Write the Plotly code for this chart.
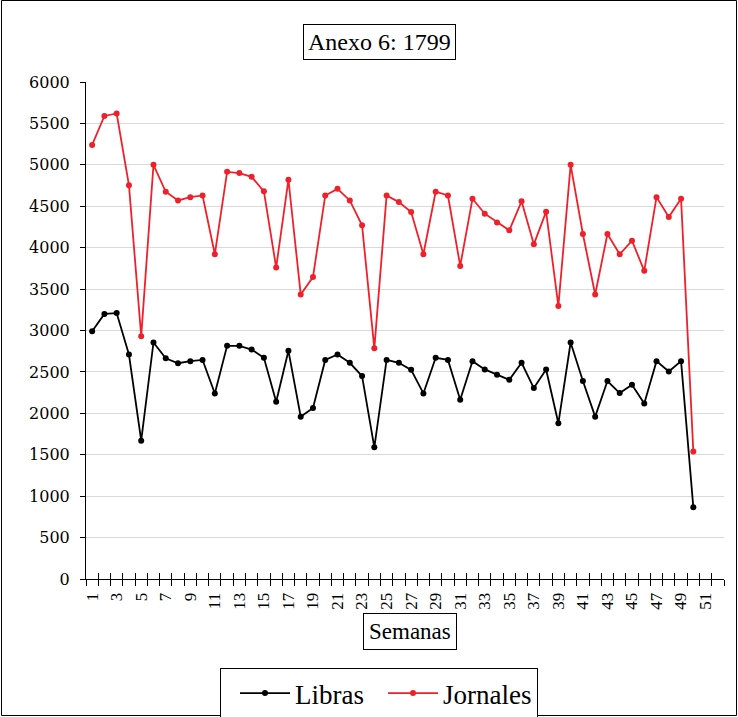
import plotly.graph_objects as go

# ---- data ----
semanas = list(range(1, 53))  # categories on the axis (52 weeks)
libras = [2990, 3200, 3210, 2710, 1670, 2855, 2665, 2605, 2630, 2645,
          2240, 2815, 2815, 2770, 2670, 2140, 2755, 1960, 2065, 2645,
          2710, 2610, 2450, 1590, 2645, 2610, 2525, 2240, 2670, 2645,
          2165, 2630, 2530, 2465, 2405, 2610, 2305, 2530, 1880, 2855,
          2390, 1960, 2390, 2245, 2345, 2120, 2630, 2505, 2630, 865]
jornales = [5240, 5590, 5620, 4755, 2930, 5000, 4675, 4570, 4610, 4630,
            3920, 4915, 4900, 4855, 4680, 3760, 4820, 3435, 3645, 4630,
            4710, 4570, 4270, 2785, 4630, 4550, 4430, 3920, 4675, 4630,
            3780, 4590, 4410, 4305, 4210, 4560, 4040, 4435, 3295, 5000,
            4165, 3435, 4165, 3920, 4085, 3720, 4610, 4370, 4590, 1540]
tick_labels = [str(s) if s % 2 == 1 else "" for s in semanas]
y_ticks = list(range(0, 6001, 500))

weeks = semanas[:len(libras)]
W, H = 738, 717
L, R, T, B = 86, 14, 82, 138
pw, ph = W - L - R, H - T - B
cat_px = pw / len(semanas)

serif = "Liberation Serif, Times New Roman, serif"
ytickfont = dict(family="DejaVu Serif, serif", size=16, color="#000")
xtickfont = dict(family=serif, size=17, color="#000")

fig = go.Figure()
fig.add_trace(go.Scatter(
    x=weeks, y=libras, name="Libras", mode="lines+markers",
    line=dict(color="#000000", width=1.8),
    marker=dict(color="#000000", size=6),
    xaxis="x2", yaxis="y"))
fig.add_trace(go.Scatter(
    x=weeks, y=jornales, name="Jornales", mode="lines+markers",
    line=dict(color="#F0202A", width=1.8),
    marker=dict(color="#F0202A", size=6)))

bounds = [s - 0.5 for s in semanas] + [semanas[-1] + 0.5]
rng = [semanas[0] - 0.5, semanas[-1] + 0.5]

fig.update_layout(
    width=W, height=H,
    margin=dict(l=L, r=R, t=T, b=B, pad=0, autoexpand=False),
    paper_bgcolor="white", plot_bgcolor="white",
    showlegend=True,
    legend=dict(orientation="h", x=(379 - L) / pw, xanchor="center",
                y=(T + ph - 668) / ph, yanchor="top",
                bordercolor="#000", borderwidth=1,
                font=dict(family=serif, size=27, color="#000"),
                itemwidth=50, tracegroupgap=0, indentation=14),
    xaxis=dict(range=rng, tickmode="array", tickvals=bounds,
               ticktext=tick_labels + [""], ticklabelshift=int(round(cat_px / 2)),
               ticklabelstandoff=0,
               tickangle=-90, ticks="outside", ticklen=6, tickcolor="#000",
               tickfont=xtickfont, showline=True, linecolor="#000",
               linewidth=1, showgrid=False, zeroline=False),
    xaxis2=dict(range=rng, overlaying="x", anchor="y", side="bottom",
                tickmode="array", tickvals=bounds, ticks="inside",
                ticklen=6, tickcolor="#000", showticklabels=False,
                showline=False, showgrid=False, zeroline=False),
    yaxis=dict(range=[0, 6000], tickmode="array", tickvals=y_ticks,
               ticks="outside", ticklen=5, tickcolor="#000",
               ticklabelstandoff=7,
               tickfont=ytickfont, showline=True, linecolor="#000",
               linewidth=1, showgrid=True, gridcolor="#D9D9D9",
               gridwidth=1, zeroline=False),
    annotations=[
        dict(text="Anexo 6: 1799", xref="paper", yref="paper",
             x=(379 - L) / pw, y=(T + ph - 41.5) / ph,
             xanchor="center", yanchor="middle", showarrow=False,
             font=dict(family=serif, size=24, color="#000"),
             bordercolor="#000", borderwidth=1, borderpad=4,
             bgcolor="white"),
        dict(text="Semanas", xref="paper", yref="paper",
             x=(409.5 - L) / pw, y=(T + ph - 631.5) / ph,
             xanchor="center", yanchor="middle", showarrow=False,
             font=dict(family=serif, size=23, color="#000"),
             bordercolor="#000", borderwidth=1, borderpad=5,
             bgcolor="white"),
    ],
    shapes=[dict(type="rect", xref="paper", yref="paper",
                 x0=(1.5 - L) / pw, x1=(736.5 - L) / pw,
                 y0=(T + ph - 715.5) / ph, y1=(T + ph - 0.5) / ph,
                 line=dict(color="#000", width=1), layer="below")],
)

fig.write_html("out.html",
               config={"displayModeBar": False},
               post_script="document.body.style.margin='0';"
                           "document.body.style.overflow='hidden';")
